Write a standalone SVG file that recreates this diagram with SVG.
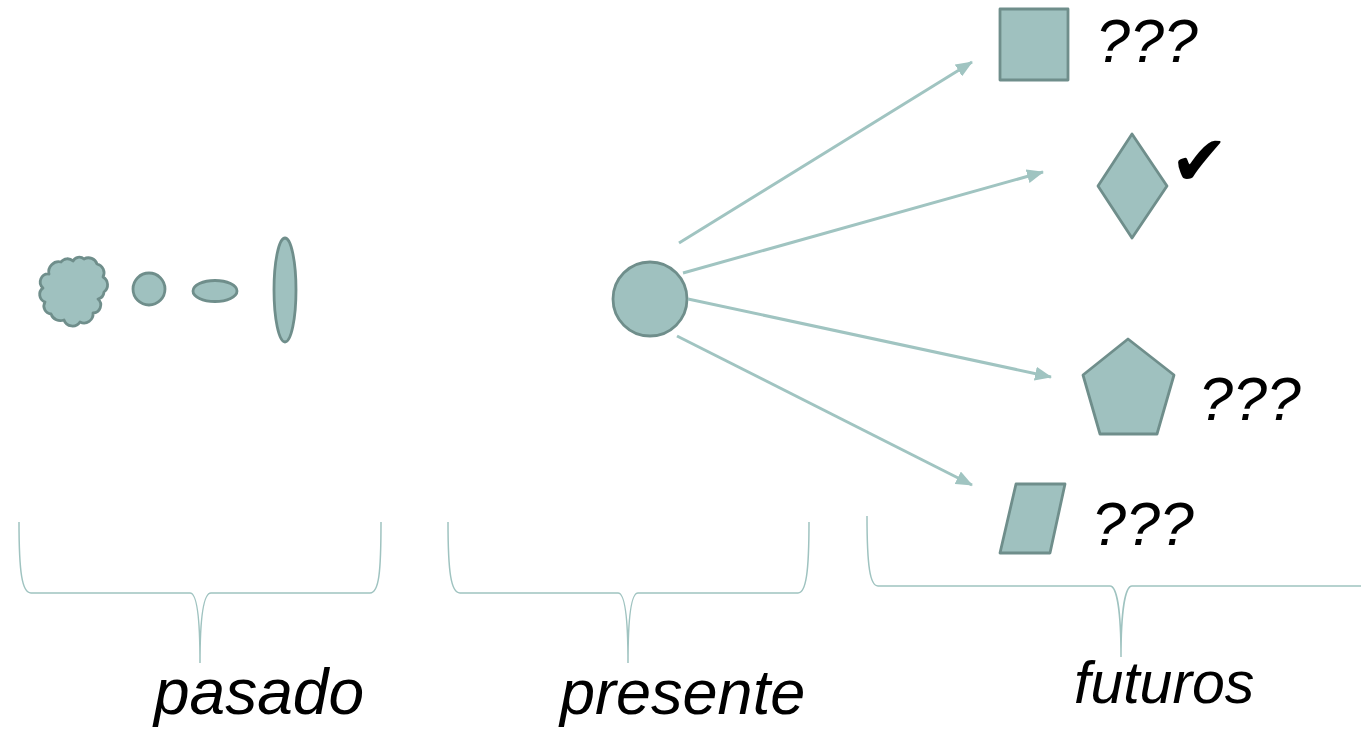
<svg xmlns="http://www.w3.org/2000/svg" width="1361" height="731" viewBox="0 0 1361 731">
<style>
.shape{fill:#9fc1bf;stroke:#6f8e8b;stroke-width:2.8;stroke-linejoin:round}
.conn{stroke:#a0c4c1;stroke-width:3;fill:none}
.brace{stroke:#9fc3c0;stroke-width:1.5;fill:none}
.lbl{font-family:"Liberation Sans",Arial,sans-serif;font-style:italic;fill:#000}
</style>
<defs>
<marker id="ah" markerWidth="17" markerHeight="14" refX="16" refY="7" orient="auto" markerUnits="userSpaceOnUse">
<path d="M0,0 L17,7 L0,14 Z" fill="#a0c4c1"/>
</marker>
</defs>
<rect width="1361" height="731" fill="#fff"/>
<g id="past">
<g id="cloud"><path class="shape" d="M49,274 A10,10 0 0 1 61,262 A8,8 0 0 1 73,261 A7,7 0 0 1 84,259 A9,9 0 0 1 97,264 A9,9 0 0 1 103,277 A9,9 0 0 1 104,292 A8,8 0 0 1 98,299 A8,8 0 0 1 93,313 A9,9 0 0 1 80,322 A9,9 0 0 1 64,320 A10,10 0 0 1 51,314 A8,8 0 0 1 45,302 A8,8 0 0 1 43,288 A8,8 0 0 1 49,274 Z"/></g>
<g id="small-circle"><circle class="shape" cx="149" cy="289" r="16"/></g>
<g id="flat-ellipse"><ellipse class="shape" cx="215" cy="291" rx="22" ry="10.5"/></g>
<g id="tall-ellipse"><ellipse class="shape" cx="285" cy="290" rx="11" ry="52"/></g>
</g>
<g id="present"><circle class="shape" cx="650" cy="299" r="37"/></g>
<g id="connectors">
<line class="conn" x1="679" y1="243" x2="972" y2="62" marker-end="url(#ah)"/>
<line class="conn" x1="683" y1="273" x2="1043" y2="172" marker-end="url(#ah)"/>
<line class="conn" x1="688" y1="299" x2="1051" y2="377" marker-end="url(#ah)"/>
<line class="conn" x1="677" y1="336" x2="972" y2="485" marker-end="url(#ah)"/>
</g>
<g id="future-square"><rect class="shape" x="1000" y="9" width="68" height="71"/><text class="lbl" x="1096" y="62" font-size="61">???</text></g>
<g id="future-diamond"><polygon class="shape" points="1132,134 1167,186 1132,238 1098,186"/><text x="1170" y="185" font-size="70" font-family="DejaVu Sans,sans-serif">✔</text></g>
<g id="future-pentagon"><polygon class="shape" points="1128,339 1174,375 1157,434 1100,434 1083,375"/><text class="lbl" x="1199" y="420" font-size="61">???</text></g>
<g id="future-parallelogram"><polygon class="shape" points="1016,484 1065,484 1050,553 1000,553"/><text class="lbl" x="1092" y="545" font-size="61">???</text></g>
<g id="brace-past"><path class="brace" d="M19,522 C19,572 22,593 31,593 L190,593 C197,593 200,620 200,663 C200,620 203,593 211,593 L370,593 C379,593 381,572 381,522"/><text class="lbl" x="154" y="714" font-size="64">pasado</text></g>
<g id="brace-present"><path class="brace" d="M448,522 C448,572 451,593 460,593 L618,593 C625,593 628,620 628,663 C628,620 631,593 638,593 L798,593 C806,593 809,572 809,522"/><text class="lbl" x="560" y="714" font-size="63">presente</text></g>
<g id="brace-future"><path class="brace" d="M867,516 C867,566 870,586 878,586 L1110,586 C1117,586 1121,613 1121,657 C1121,613 1125,586 1132,586 L1361,586"/><text class="lbl" x="1074" y="703" font-size="59">futuros</text></g>
</svg>
